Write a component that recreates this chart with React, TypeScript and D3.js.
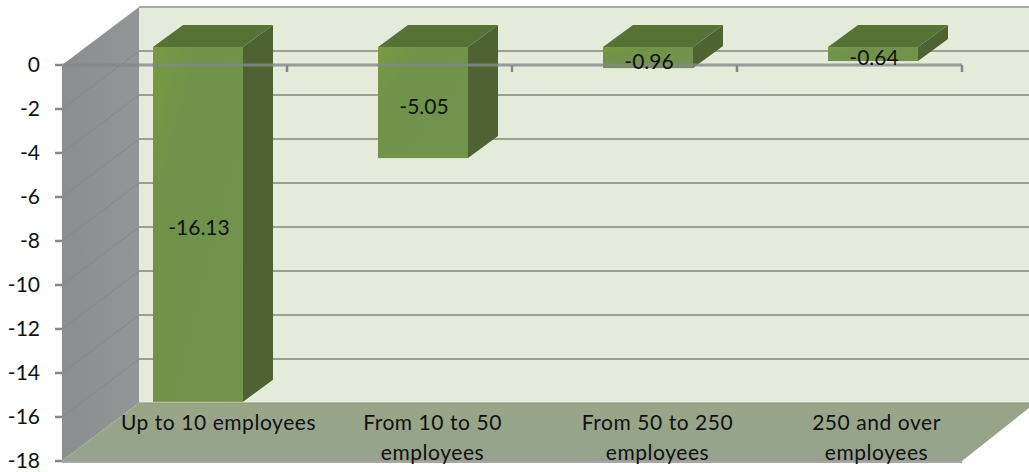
import React from "react";
import * as d3 from "d3";

const categories = ["Up to 10 employees", "From 10 to 50 employees", "From 50 to 250 employees", "250 and over employees"];
const categoryLines = [["Up to 10 employees"], ["From 10 to 50", "employees"], ["From 50 to 250", "employees"], ["250 and over", "employees"]];
const labelShift = [44, 33, 33, 27];
const values = [-16.13, -5.05, -0.96, -0.64];
const valueTicks = [0, -2, -4, -6, -8, -10, -12, -14, -16, -18];

const WIDTH = 1029;
const HEIGHT = 472;
const FONT = "Lato, 'Open Sans', sans-serif";
const FONT_SIZE = 21;
// oblique offset between the front plane and the back wall
const DEPTH_X = 77;
const DEPTH_Y = 58;
// bar placement inside the depth of the box
const BAR_SHIFT_X = 23.5;
const BAR_SHIFT_Y = 18;
const BAR_DEPTH_X = 30;
const BAR_DEPTH_Y = 22;
const BAR_W = 90;

const y = d3.scaleLinear().domain([0, -18]).range([65, 461]);
const x = d3.scaleBand<number>().domain(d3.range(categories.length)).range([62, 962]).paddingInner(0).paddingOuter(0);

const poly = (pts: [number, number][]) => d3.line()(pts) + "Z";

export default function App() {
  const left = x.range()[0];
  const right = x.range()[1];
  const front0 = y(0);
  const frontB = y(-18);
  const gridValues = valueTicks.slice(1, -1);
  return (
    <svg width={WIDTH} height={HEIGHT} viewBox={`0 0 ${WIDTH} ${HEIGHT}`}
      style={{ position: "absolute", left: 0, top: 0, background: "#fff" }}>
      <defs>
        <linearGradient id="floorFill" x1="0" y1="0" x2="0" y2="1">
          <stop offset="0" stopColor="#9aa585" />
          <stop offset="0.75" stopColor="#93a48c" />
          <stop offset="1" stopColor="#9a9f90" />
        </linearGradient>
        <linearGradient id="sideFill" x1="0" y1="0" x2="1" y2="0">
          <stop offset="0" stopColor="#8b8e8e" />
          <stop offset="1" stopColor="#939697" />
        </linearGradient>
        <linearGradient id="barFront" x1="0" y1="0" x2="1" y2="1">
          <stop offset="0" stopColor="#789a42" />
          <stop offset="0.25" stopColor="#71924a" />
          <stop offset="1" stopColor="#72934b" />
        </linearGradient>
      </defs>

      {/* back wall */}
      <rect x={left + DEPTH_X} y={front0 - DEPTH_Y} width={WIDTH - left - DEPTH_X} height={frontB - front0} fill="#e5ebda" />
      <line x1={left + DEPTH_X} x2={WIDTH} y1={front0 - DEPTH_Y} y2={front0 - DEPTH_Y} stroke="#a9aaa8" strokeWidth={2} />
      {gridValues.map((v) => (
        <line key={v} x1={left + DEPTH_X} x2={WIDTH} y1={y(v) - DEPTH_Y} y2={y(v) - DEPTH_Y} stroke="#9c9e90" strokeWidth={2} />
      ))}

      {/* side wall with its oblique gridlines */}
      <path d={poly([[left, front0], [left + DEPTH_X, front0 - DEPTH_Y], [left + DEPTH_X, frontB - DEPTH_Y], [left, frontB]])} fill="url(#sideFill)" />
      {gridValues.map((v) => (
        <line key={v} x1={left} x2={left + DEPTH_X} y1={y(v)} y2={y(v) - DEPTH_Y} stroke="#85888a" strokeWidth={1} />
      ))}

      {/* floor */}
      <path d={poly([[left + DEPTH_X, frontB - DEPTH_Y], [WIDTH, frontB - DEPTH_Y], [WIDTH, frontB - DEPTH_Y + 5], [right, frontB], [left, frontB]])} fill="url(#floorFill)" />
      <line x1={left + DEPTH_X} x2={WIDTH} y1={frontB - DEPTH_Y} y2={frontB - DEPTH_Y} stroke="#8d9480" strokeWidth={1} />
      <line x1={left} x2={right} y1={frontB + 1} y2={frontB + 1} stroke="#a5a7a3" strokeWidth={2} />

      {/* bars */}
      {values.map((v, i) => {
        const cx = (x(i) as number) + x.bandwidth() / 2 + BAR_SHIFT_X;
        const x0 = cx - BAR_W / 2;
        const x1 = cx + BAR_W / 2;
        const top = y(0) - BAR_SHIFT_Y;
        const bottom = y(v) - BAR_SHIFT_Y;
        return (
          <g key={categories[i]}>
            <path d={poly([[x1, top], [x1 + BAR_DEPTH_X, top - BAR_DEPTH_Y], [x1 + BAR_DEPTH_X, bottom - BAR_DEPTH_Y], [x1, bottom]])} fill="#4e6331" />
            <path d={poly([[x0, top], [x0 + BAR_DEPTH_X, top - BAR_DEPTH_Y], [x1 + BAR_DEPTH_X, top - BAR_DEPTH_Y], [x1, top]])} fill="#587236" />
            <rect x={x0} y={top} width={BAR_W} height={bottom - top} fill="url(#barFront)" />
          </g>
        );
      })}

      {/* front axis and ticks */}
      <line x1={left} x2={right} y1={front0} y2={front0} stroke="#85878a" strokeOpacity={0.8} strokeWidth={3} />
      {d3.range(1, categories.length + 1).map((i) => {
        const tx = left + i * x.bandwidth();
        return <line key={i} x1={tx} x2={tx} y1={front0} y2={front0 + 7} stroke="#85878a" strokeWidth={2.5} />;
      })}
      {valueTicks.map((v) => (
        <line key={v} x1={55} x2={left} y1={y(v)} y2={y(v)} stroke="#85878a" strokeWidth={2.5} />
      ))}

      {/* value axis labels */}
      {valueTicks.map((v) => (
        <text key={v} x={40} y={y(v) + 7} textAnchor="end" fontFamily={FONT} fontSize={FONT_SIZE} fill="#111">{v}</text>
      ))}

      {/* data labels */}
      {values.map((v, i) => {
        const cx = (x(i) as number) + x.bandwidth() / 2 + BAR_SHIFT_X;
        const mid = (y(0) + y(v)) / 2 - BAR_SHIFT_Y;
        return (
          <text key={categories[i]} x={cx + 1} y={mid + 11} textAnchor="middle" fontFamily={FONT} fontSize={FONT_SIZE} fill="#111">
            {v.toFixed(2)}
          </text>
        );
      })}

      {/* category labels */}
      {categoryLines.map((lines, i) => (
        <text key={categories[i]} textAnchor="middle" fontFamily={FONT} fontSize={FONT_SIZE} letterSpacing={0.55} fill="#111">
          {lines.map((line, j) => (
            <tspan key={line} x={(x(i) as number) + x.bandwidth() / 2 + labelShift[i]} y={430 + j * 30}>{line}</tspan>
          ))}
        </text>
      ))}
    </svg>
  );
}
